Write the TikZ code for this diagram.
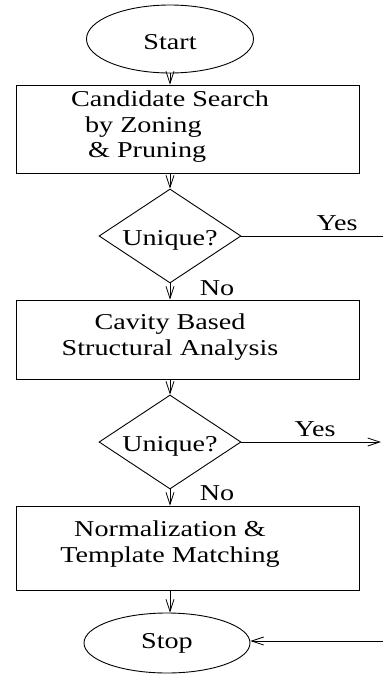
\documentclass[tikz,border=0pt]{standalone}
\usepackage{fontspec}
\setmainfont{Liberation Serif}[FakeStretch=1.24]
\usetikzlibrary{shapes.geometric,arrows.meta}
\begin{document}
\begin{tikzpicture}[x=1pt,y=-1pt,
  every node/.style={font=\fontsize{22.7}{25.5}\selectfont, inner sep=0pt},
  oval/.style={draw, ellipse, line width=0.9pt},
  procbox/.style={draw, rectangle, line width=0.9pt},
  decision/.style={draw, diamond, aspect=1.51, minimum width=142pt, minimum height=94pt, line width=0.9pt},
  flow/.style={line width=0.9pt, -{Straight Barb[length=12pt,width=8pt,line width=0.8pt]}},
  plain/.style={line width=0.9pt},
  txt/.style={align=center}]
\useasboundingbox (0,0) rectangle (383,675);
\node[oval, minimum width=167pt, minimum height=68pt] (start) at (170,39) {};
\node (starttxt) at (170,42) {Start};
\node[procbox, minimum width=343pt, minimum height=88pt] (box1) at (187.5,129) {};
\node[align=left] (box1txt) at (170,127) {Candidate Search\\\hspace*{14pt}by Zoning\\\hspace*{17pt}\& Pruning};
\node[decision] (d1) at (170,236) {};
\node (d1txt) at (170,240) {Unique?};
\node[procbox, minimum width=343pt, minimum height=79pt] (box2) at (187.5,339.5) {};
\node[txt] (box2txt) at (170,337) {Cavity Based\\Structural Analysis};
\node[decision] (d2) at (170,442) {};
\node (d2txt) at (170,446) {Unique?};
\node[procbox, minimum width=343pt, minimum height=84pt] (box3) at (187.5,548) {};
\node[txt] (box3txt) at (170,544) {Normalization \&\\Template Matching};
\node[oval, minimum width=166pt, minimum height=60pt] (stop) at (167,643) {};
\node (stoptxt) at (167,643) {Stop};
\node (yes1) at (337,223) {Yes};
\node (yes2) at (315,429) {Yes};
\node (no1) at (217,288) {No};
\node (no2) at (217,493) {No};
\coordinate (e1) at (383,236);
\coordinate (e2) at (381,442);
\coordinate (e3) at (383,641);
\draw[flow] (start.south) -- (start.south |- box1.north);
\draw[flow] (box1.south -| d1.north) -- (d1.north);
\draw[flow] (d1.south) -- (d1.south |- box2.north);
\draw[flow] (box2.south -| d2.north) -- (d2.north);
\draw[flow] (d2.south) -- (d2.south |- box3.north);
\draw[flow] (box3.south -| 170,0) -- (stop.north -| 170,0);
\draw[plain] (d1.east) -- (e1);
\draw[flow] (d2.east) -- (e2);
\draw[flow] (e3) -- (stop.east |- e3);
\end{tikzpicture}
\end{document}
